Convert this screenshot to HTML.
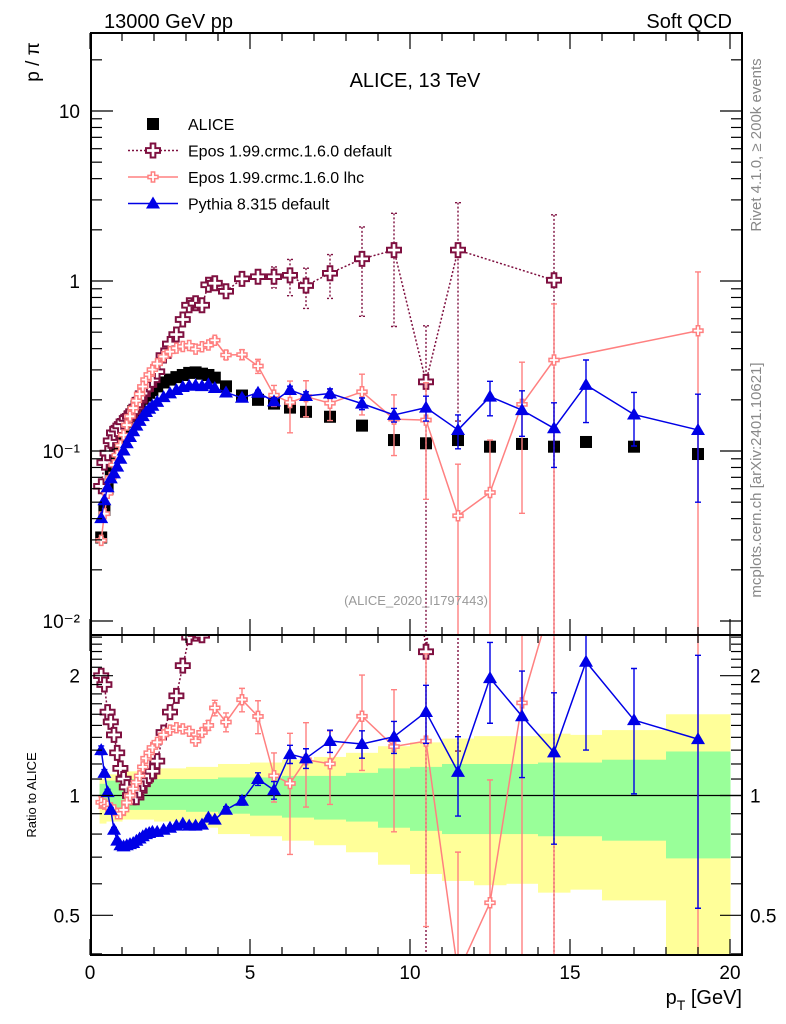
<!DOCTYPE html>
<html><head><meta charset="utf-8"><style>
html,body{margin:0;padding:0;background:#fff;width:786px;height:1024px;overflow:hidden;position:relative;}
svg{display:block;position:absolute;left:0;top:0;font-family:"Liberation Sans",sans-serif;}
script{display:none;}
</style></head><body>
<svg id="chart" width="786" height="1024" viewBox="0 0 786 1024" xmlns="http://www.w3.org/2000/svg">
<defs>
<clipPath id="clipMain"><rect x="91" y="33" width="651" height="602"/></clipPath>
<clipPath id="clipRatio"><rect x="91" y="635" width="651" height="320"/></clipPath>
</defs>
<g id="bands" clip-path="url(#clipRatio)"></g>
<g id="ratioMarks" clip-path="url(#clipRatio)"></g>
<g id="mainMarks" clip-path="url(#clipMain)"></g>
<g id="axes"></g>
<text x="104" y="28" font-size="20">13000 GeV pp</text>
<text x="732" y="28" font-size="20" text-anchor="end">Soft QCD</text>
<text x="415" y="87" font-size="20" text-anchor="middle">ALICE, 13 TeV</text>
<text transform="translate(39,62) rotate(-90)" font-size="19" text-anchor="middle">p / π</text>
<text transform="translate(36,795) rotate(-90)" font-size="13" text-anchor="middle">Ratio to ALICE</text>
<text x="742" y="1004" font-size="20" text-anchor="end">p<tspan font-size="14" dy="6">T</tspan><tspan dy="-6"> [GeV]</tspan></text>
<text transform="translate(761,145) rotate(-90)" font-size="15" fill="#888" text-anchor="middle">Rivet 4.1.0, ≥ 200k events</text>
<text transform="translate(761,480) rotate(-90)" font-size="15" fill="#888" text-anchor="middle">mcplots.cern.ch [arXiv:2401.10621]</text>
<text x="416" y="605" font-size="13" fill="#999" text-anchor="middle">(ALICE_2020_I1797443)</text>
<g id="legend"></g>
</svg>
<script>
const pts = [0.35,0.45,0.55,0.65,0.75,0.85,0.95,1.05,1.15,1.25,1.35,1.45,1.55,1.65,1.75,1.85,1.95,2.1,2.3,2.5,2.7,2.9,3.1,3.3,3.5,3.7,3.9,4.25,4.75,5.25,5.75,6.25,6.75,7.5,8.5,9.5,10.5,11.5,12.5,13.5,14.5,15.5,17,19];
const alice = [0.031,0.045,0.06,0.075,0.09,0.105,0.12,0.135,0.148,0.16,0.172,0.183,0.193,0.203,0.212,0.22,0.228,0.24,0.253,0.263,0.272,0.28,0.288,0.29,0.285,0.28,0.27,0.24,0.212,0.2,0.19,0.18,0.17,0.159,0.141,0.116,0.111,0.116,0.106,0.11,0.106,0.113,0.106,0.096];
const pythia = [0.0403,0.0513,0.0612,0.069,0.0738,0.0809,0.09,0.1006,0.111,0.1208,0.1307,0.1409,0.1505,0.1604,0.1696,0.1771,0.1847,0.1944,0.2075,0.2183,0.2285,0.238,0.242,0.2436,0.2408,0.2464,0.2349,0.221,0.2056,0.22,0.196,0.2286,0.2108,0.218,0.19,0.163,0.18,0.133,0.209,0.174,0.136,0.245,0.164,0.133];
const pythiaErr = [0.001,0.001,0.001,0.001,0.001,0.001,0.001,0.001,0.001,0.001,0.001,0.001,0.001,0.001,0.001,0.001,0.001,0.002,0.002,0.002,0.002,0.002,0.003,0.003,0.003,0.003,0.003,0.004,0.005,0.008,0.01,0.012,0.012,0.014,0.015,0.015,0.03,0.03,0.048,0.052,0.056,0.098,0.057,0.083];
const eposLhc = [0.0298,0.0428,0.0564,0.0698,0.0828,0.0945,0.108,0.1242,0.1421,0.16,0.1789,0.1976,0.2162,0.2395,0.2629,0.2816,0.301,0.3264,0.3593,0.384,0.4026,0.4116,0.4176,0.3973,0.4104,0.42,0.4482,0.367,0.369,0.316,0.213,0.193,0.209,0.191,0.223,0.154,0.152,0.0416,0.057,0.188,0.343,null,null,0.51];
const eposLhcErr = [0.001,0.001,0.001,0.001,0.001,0.001,0.001,0.001,0.001,0.001,0.001,0.001,0.001,0.001,0.001,0.001,0.001,0.004,0.004,0.004,0.004,0.004,0.004,0.004,0.01,0.012,0.02,0.02,0.025,0.03,0.03,0.065,0.05,0.04,0.06,0.06,0.1,0.042,0.059,0.145,0.39,0,0,0.62];
const eposDef = [0.062,0.0855,0.0972,0.1148,0.1278,0.1344,0.1404,0.1485,0.1554,0.16,0.1703,0.1812,0.1988,0.2172,0.2332,0.2464,0.2622,0.2928,0.3643,0.4261,0.4842,0.5936,0.72,0.74,0.72,0.95,0.97,0.87,1.03,1.06,1.06,1.08,0.94,1.11,1.35,1.52,0.255,1.52,null,null,1.01,null,null,null];
const eposDefErr = [0.002,0.002,0.002,0.002,0.002,0.002,0.002,0.002,0.002,0.002,0.002,0.002,0.002,0.002,0.002,0.002,0.002,0.005,0.005,0.006,0.008,0.01,0.02,0.02,0.02,0.02,0.02,0.03,0.05,0.05,0.15,0.26,0.25,0.32,0.73,0.98,0.29,1.37,0,0,1.44,0,0,0];
const bandEdges = [0.3,0.5,1,1.5,2,3,4,5,6,7,8,9,10,11,12,13,14,15,16,18,20];
const greenUp = [1.07,1.09,1.1,1.1,1.1,1.1,1.11,1.11,1.12,1.12,1.14,1.17,1.18,1.2,1.2,1.2,1.21,1.21,1.23,1.29];
const greenDn = [0.93,0.92,0.92,0.92,0.92,0.91,0.9,0.89,0.88,0.87,0.86,0.83,0.815,0.8,0.8,0.8,0.79,0.79,0.77,0.695];
const yellowUp = [1.1,1.13,1.15,1.16,1.17,1.18,1.2,1.21,1.23,1.25,1.28,1.33,1.36,1.39,1.41,1.41,1.43,1.42,1.46,1.6];
const yellowDn = [0.85,0.86,0.87,0.87,0.86,0.83,0.8,0.79,0.77,0.75,0.72,0.67,0.635,0.61,0.595,0.6,0.57,0.58,0.545,0.3];
const xTicksMajor = [0,5,10,15,20];
const mainTickLabels = ["10","1","10⁻¹","10⁻²"];
const ratioTickLabels = ["2","1","0.5"];

const NS = "http://www.w3.org/2000/svg";
const X = v => 90 + 32 * v;
const Ym = v => 281 - 170 * Math.log10(v);
const Yr = r => 795.5 - 398 * Math.log10(r);
const safeLog = v => (v <= 1e-6 ? 1e-6 : v);
const clampY = (y, lo, hi) => Math.max(lo, Math.min(hi, y));
function mk(tag, attrs, parent){ const e=document.createElementNS(NS,tag); for(const k in attrs) e.setAttribute(k,attrs[k]); parent.appendChild(e); return e; }
function clipSeg(p,q,lo,hi){
  let [x1,y1]=p,[x2,y2]=q;
  if((y1<lo&&y2<lo)||(y1>hi&&y2>hi)) return null;
  const at=(y)=>x1+(x2-x1)*(y-y1)/(y2-y1);
  if(y1<lo){x1=at(lo);} if(y1>hi){x1=at(hi);}
  const ox1=p[0], oy1=p[1];
  let nx2=x2, ny2=y2;
  const at2=(y)=>ox1+(x2-ox1)*(y-oy1)/(y2-oy1);
  if(y2<lo){nx2=at2(lo);ny2=lo;} if(y2>hi){nx2=at2(hi);ny2=hi;}
  return [[x1,clampY(y1,lo,hi)],[nx2,ny2]];
}

const bands = document.getElementById('bands');
for (let i=0;i<greenUp.length;i++){
  const x0=X(bandEdges[i]), x1=X(bandEdges[i+1]);
  const yt=clampY(Yr(yellowUp[i]),635,955), yb=clampY(Yr(yellowDn[i]),635,955);
  const y = mk('rect',{x:x0,y:yt,width:x1-x0+0.5,height:yb-yt,fill:'#ffff99'},bands);
  
  
  const g = mk('rect',{x:x0,y:Yr(greenUp[i]),width:x1-x0+0.5,height:Yr(greenDn[i])-Yr(greenUp[i]),fill:'#99ff99'},bands);
  
  
}
const ratioG = document.getElementById('ratioMarks');
const one = mk('line',{x1:91,x2:742,y1:Yr(1),y2:Yr(1),stroke:'#000','stroke-width':1.3},ratioG);



function crossPath(cx,cy,s){
  const a=s/2, b=s/6;
  return `M${cx-b},${cy-a}H${cx+b}V${cy-b}H${cx+a}V${cy+b}H${cx+b}V${cy+a}H${cx-b}V${cy+b}H${cx-a}V${cy-b}H${cx-b}Z`;
}
function drawMarker(g,type,cx,cy,color){
  let m;
  if(type==='square') m=mk('rect',{x:cx-6,y:cy-6,width:12,height:12,fill:'#000'},g);
  else if(type==='tri') m=mk('path',{d:`M${cx},${cy-7}L${cx+7},${cy+5}L${cx-7},${cy+5}Z`,fill:color},g);
  else if(type==='bigcross') m=mk('path',{d:crossPath(cx,cy,14),fill:'#fff',stroke:color,'stroke-width':2},g);
  else m=mk('path',{d:crossPath(cx,cy,10),fill:'#fff',stroke:color,'stroke-width':1.5},g);
  
  
}
function drawSeries(g,vals,errs,yfn,ratio,opts){
  const lo=opts.lo, hi=opts.hi;
  const sub=mk('g',{},g);
  
  
  const ptsXY=[];
  for(let i=0;i<pts.length;i++){
    const v=vals[i]; if(v==null) continue;
    const den = ratio ? alice[i] : 1;
    const c=v/den, e=(errs?errs[i]:0)/den;
    const x=X(pts[i]);
    ptsXY.push([x,yfn(c)]);
    if(e>0){
      const ytr=yfn(c+e), ybr=yfn(safeLog(c-e));
      if(ybr<lo || ytr>hi) continue;
      const yt=clampY(ytr,lo-5,hi+5), yb=clampY(ybr,lo-5,hi+5);
      const eb=mk('path',{d:`M${x},${yt}V${yb}M${x-3},${yt}H${x+3}M${x-3},${yb}H${x+3}`,stroke:opts.color,'stroke-width':1.4,fill:'none','stroke-dasharray':opts.dash||'none'},sub);
      
      
    }
  }
  if(opts.line){
    let d='';
    for(let i=0;i+1<ptsXY.length;i++){
      const s=clipSeg(ptsXY[i],ptsXY[i+1],lo,hi);
      if(s) d+=`M${s[0][0]},${s[0][1]}L${s[1][0]},${s[1][1]}`;
    }
    const ln=mk('path',{d:d,fill:'none',stroke:opts.color,'stroke-width':opts.lw||1.5,'stroke-dasharray':opts.dash||'none'},sub);
    
    
  }
  ptsXY.forEach(p=>{ if(p[1]>lo-10 && p[1]<hi+10) drawMarker(sub,opts.marker,p[0],p[1],opts.color); });
}
const DEF='#7f1040', LHC='#ff8080', PY='#0000e6';
const mainG=document.getElementById('mainMarks');
const M={lo:33,hi:635}, R={lo:635,hi:955};
drawSeries(mainG,alice,null,Ym,false,{name:'alice-series',color:'#000',marker:'square',line:false,...M});
drawSeries(mainG,eposDef,eposDefErr,Ym,false,{name:'epos-default-series',color:DEF,marker:'bigcross',line:true,dash:'2,2',...M});
drawSeries(mainG,eposLhc,eposLhcErr,Ym,false,{name:'epos-lhc-series',color:LHC,marker:'smallcross',line:true,...M});
drawSeries(mainG,pythia,pythiaErr,Ym,false,{name:'pythia-series',color:PY,marker:'tri',line:true,...M});
drawSeries(ratioG,eposDef,eposDefErr,Yr,true,{name:'epos-default-ratio',color:DEF,marker:'bigcross',line:true,dash:'2,2',...R});
drawSeries(ratioG,eposLhc,eposLhcErr,Yr,true,{name:'epos-lhc-ratio',color:LHC,marker:'smallcross',line:true,...R});
drawSeries(ratioG,pythia,pythiaErr,Yr,true,{name:'pythia-ratio',color:PY,marker:'tri',line:true,...R});

const ax=document.getElementById('axes');
function ln(x1,y1,x2,y2,w){ const l=mk('line',{x1,y1,x2,y2,stroke:'#000','stroke-width':w||1.2},ax);   return l; }
const f1=mk('rect',{x:91,y:33,width:651,height:602,fill:'none',stroke:'#000','stroke-width':2},ax);


const f2=mk('rect',{x:91,y:635,width:651,height:320,fill:'none',stroke:'#000','stroke-width':2},ax);


for(let v=0; v<=20; v++){
  const x=X(v); const maj=xTicksMajor.includes(v); const L=maj?16:8;
  ln(x,33,x,33+L); ln(x,635,x,635-L); ln(x,635,x,635+L); ln(x,955,x,955-L);
  if(maj){ const t=mk('text',{x:x,y:979,'font-size':19,'text-anchor':'middle'},ax); t.textContent=String(v);
      }
}
for(let d=-2; d<=1; d++){
  for(let k=1;k<=9;k++){
    const v=k*Math.pow(10,d); const y=Ym(v); if(y<33||y>635) continue;
    const L=k===1?22:11; ln(91,y,91+L,y); ln(742,y,742-L,y);
  }
}
[10,1,0.1,0.01].forEach((v,i)=>{
  const t=mk('text',{x:80,y:Ym(v)+7,'font-size':19,'text-anchor':'end'},ax); t.textContent=mainTickLabels[i];
   
});
[0.4,0.5,0.6,0.7,0.8,0.9,1,1.1,1.2,1.3,1.4,1.5,1.6,1.7,1.8,1.9,2,2.1,2.2,2.3,2.4,2.5].forEach(v=>{
  const y=Yr(v); if(y<635||y>955) return;
  const maj=(v===0.5||v===1||v===2); const L=maj?22:11;
  ln(91,y,91+L,y); ln(742,y,742-L,y);
});
[2,1,0.5].forEach((v,i)=>{
  const a=mk('text',{x:80,y:Yr(v)+7,'font-size':19,'text-anchor':'end'},ax); a.textContent=ratioTickLabels[i];
   
  const b=mk('text',{x:750,y:Yr(v)+7,'font-size':19},ax); b.textContent=ratioTickLabels[i];
   
});

const lg=document.getElementById('legend');
const legendNames=["ALICE","Epos 1.99.crmc.1.6.0 default","Epos 1.99.crmc.1.6.0 lhc","Pythia 8.315 default"];
const legendCols=['#000',DEF,LHC,PY], legendMk=['square','bigcross','smallcross','tri'];
legendNames.forEach((n,i)=>{
  const y=124+i*26.5;
  const e=mk('g',{},lg);
  
  
  if(i>0) mk('line',{x1:128,x2:178,y1:y,y2:y,stroke:legendCols[i],'stroke-width':1.5,'stroke-dasharray':i===1?'2,2':'none'},e);
  drawMarker(e,legendMk[i],153,y,legendCols[i]);
  const t=mk('text',{x:188,y:y+6,'font-size':16},e); t.textContent=n;
});
</script>
</body></html>
